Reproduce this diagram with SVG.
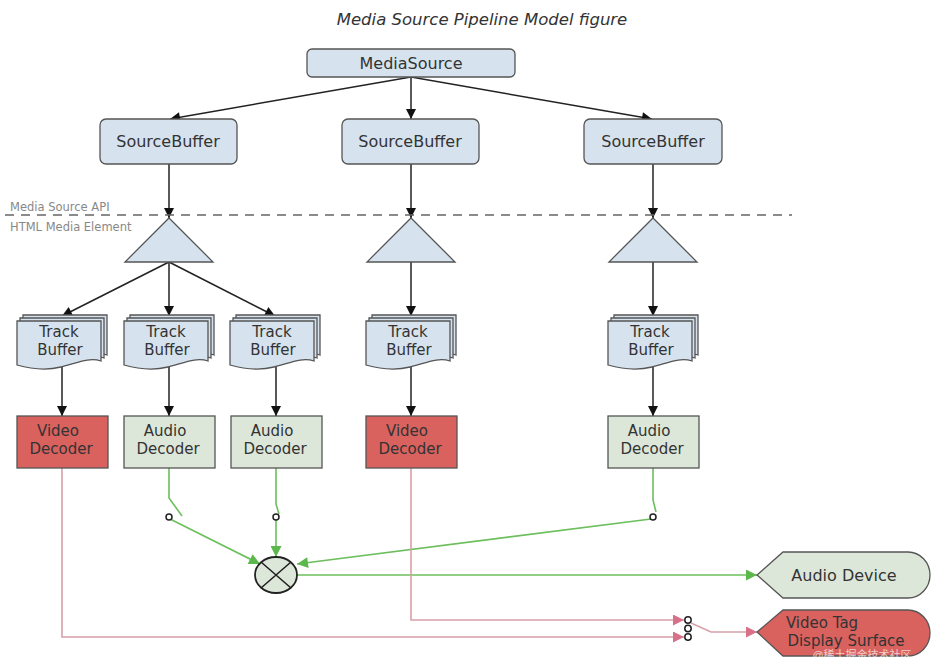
<svg xmlns="http://www.w3.org/2000/svg" width="944" height="662" viewBox="0 0 944 662">
<style>
text{font-family:"DejaVu Sans","Liberation Sans",Arial,sans-serif;fill:#333;text-anchor:middle}
.blue{fill:#d6e3ef;stroke:#555;stroke-width:1.3}
.red{fill:#d9625f;stroke:#555;stroke-width:1.3}
.grn{fill:#dde7d9;stroke:#555;stroke-width:1.3}
.k{stroke:#222;stroke-width:1.5;fill:none}
.g{stroke:#6cbf5c;stroke-width:1.6;fill:none}
.p{stroke:#d8a0aa;stroke-width:1.6;fill:none}
.sw{fill:#fff;stroke:#222;stroke-width:1.5}
.t15{font-size:15px}
.t16{font-size:16px}
.lab{font-size:11.5px;fill:#888;text-anchor:start}
</style>
<defs>
<marker id="ak" viewBox="0 0 10 10" refX="10" refY="5" markerWidth="11" markerHeight="10" markerUnits="userSpaceOnUse" orient="auto"><path d="M0,0L10,5L0,10Z" fill="#111"/></marker>
<marker id="ag" viewBox="0 0 10 10" refX="10" refY="5" markerWidth="13" markerHeight="11" markerUnits="userSpaceOnUse" orient="auto"><path d="M0,0L10,5L0,10Z" fill="#5cb84c"/></marker>
<marker id="ap" viewBox="0 0 10 10" refX="10" refY="5" markerWidth="13" markerHeight="11" markerUnits="userSpaceOnUse" orient="auto"><path d="M0,0L10,5L0,10Z" fill="#d87088"/></marker>
<g id="tb">
<path class="blue" d="M6,0H90V40C78,36 66,42 50,46C34,50 20,48 6,44Z"/>
<path class="blue" d="M3,3H87V43C75,39 63,45 47,49C31,53 17,51 3,47Z"/>
<path class="blue" d="M0,6H84V46C72,42 60,48 44,52C28,56 14,54 0,50Z"/>
</g>
</defs>
<rect width="944" height="662" fill="#fff"/>
<text x="482" y="25" style="font-size:16.5px;font-style:italic" fill="#222">Media Source Pipeline Model figure</text>

<g id="connectors">
<line class="k" x1="411" y1="77" x2="170" y2="119" marker-end="url(#ak)"/>
<line class="k" x1="411" y1="77" x2="411" y2="119" marker-end="url(#ak)"/>
<line class="k" x1="411" y1="77" x2="652" y2="119" marker-end="url(#ak)"/>
<line class="k" x1="169" y1="164" x2="169" y2="218" marker-end="url(#ak)"/>
<line class="k" x1="411" y1="164" x2="411" y2="218" marker-end="url(#ak)"/>
<line class="k" x1="653" y1="164" x2="653" y2="218" marker-end="url(#ak)"/>
<line class="k" x1="169" y1="262" x2="62" y2="316" marker-end="url(#ak)"/>
<line class="k" x1="169" y1="262" x2="169" y2="316" marker-end="url(#ak)"/>
<line class="k" x1="169" y1="262" x2="275" y2="316" marker-end="url(#ak)"/>
<line class="k" x1="411" y1="262" x2="411" y2="316" marker-end="url(#ak)"/>
<line class="k" x1="653" y1="262" x2="653" y2="316" marker-end="url(#ak)"/>
<line class="k" x1="62" y1="367" x2="62" y2="416" marker-end="url(#ak)"/>
<line class="k" x1="169" y1="367" x2="169" y2="416" marker-end="url(#ak)"/>
<line class="k" x1="276" y1="367" x2="276" y2="416" marker-end="url(#ak)"/>
<line class="k" x1="411" y1="367" x2="411" y2="416" marker-end="url(#ak)"/>
<line class="k" x1="653" y1="367" x2="653" y2="416" marker-end="url(#ak)"/>
<polyline class="g" points="169,468 169,498 182,516"/>
<polyline class="g" points="276,468 276,504 279,514"/>
<polyline class="g" points="653,468 653,500 656,512"/>
<line class="g" x1="170" y1="519" x2="260" y2="564" marker-end="url(#ag)"/>
<line class="g" x1="276" y1="520" x2="276" y2="557" marker-end="url(#ag)"/>
<line class="g" x1="651" y1="519" x2="297" y2="564" marker-end="url(#ag)"/>
<line class="g" x1="297" y1="575" x2="757" y2="575" marker-end="url(#ag)"/>
<polyline class="p" points="62,468 62,637 684,637" marker-end="url(#ap)"/>
<polyline class="p" points="411,468 411,620 684,620" marker-end="url(#ap)"/>
<polyline class="p" points="691,623 711,632 757,632" marker-end="url(#ap)"/>
<circle class="sw" cx="169" cy="517" r="3"/>
<circle class="sw" cx="276" cy="517" r="3"/>
<circle class="sw" cx="653" cy="517" r="3"/>
<circle class="sw" cx="688" cy="620" r="3.2"/>
<circle class="sw" cx="688" cy="628.5" r="3.2"/>
<circle class="sw" cx="688" cy="637" r="3.2"/>
</g>

<line x1="5" y1="215" x2="792" y2="215" stroke="#666" stroke-width="1.6" stroke-dasharray="9,7"/>
<text class="lab" x="10" y="211">Media Source API</text>
<text class="lab" x="10" y="231">HTML Media Element</text>

<g id="mediasource"><rect class="blue" x="307" y="49" width="208" height="28" rx="5"/><text class="t16" x="411" y="69">MediaSource</text></g>

<g id="sb1"><rect class="blue" x="100" y="119" width="137" height="45" rx="6"/><text class="t16" x="168" y="147">SourceBuffer</text></g>
<g id="sb2"><rect class="blue" x="342" y="119" width="137" height="45" rx="6"/><text class="t16" x="410" y="147">SourceBuffer</text></g>
<g id="sb3"><rect class="blue" x="584" y="119" width="138" height="45" rx="6"/><text class="t16" x="653" y="147">SourceBuffer</text></g>

<g id="tri1"><path class="blue" d="M169,218L213,262H125Z"/></g>
<g id="tri2"><path class="blue" d="M411,218L455,262H367Z"/></g>
<g id="tri3"><path class="blue" d="M653,218L697,262H609Z"/></g>

<g id="tb1"><use href="#tb" x="17" y="315"/><text class="t15" x="59" y="337">Track</text><text class="t15" x="60" y="355">Buffer</text></g>
<g id="tb2"><use href="#tb" x="124" y="315"/><text class="t15" x="166" y="337">Track</text><text class="t15" x="167" y="355">Buffer</text></g>
<g id="tb3"><use href="#tb" x="230" y="315"/><text class="t15" x="272" y="337">Track</text><text class="t15" x="273" y="355">Buffer</text></g>
<g id="tb4"><use href="#tb" x="366" y="315"/><text class="t15" x="408" y="337">Track</text><text class="t15" x="409" y="355">Buffer</text></g>
<g id="tb5"><use href="#tb" x="608" y="315"/><text class="t15" x="650" y="337">Track</text><text class="t15" x="651" y="355">Buffer</text></g>

<g id="vd1"><rect class="red" x="17" y="416" width="91" height="52"/><text class="t15" x="58" y="436">Video</text><text class="t15" x="61" y="454">Decoder</text></g>
<g id="ad1"><rect class="grn" x="124" y="416" width="91" height="52"/><text class="t15" x="165" y="436">Audio</text><text class="t15" x="168" y="454">Decoder</text></g>
<g id="ad2"><rect class="grn" x="231" y="416" width="91" height="52"/><text class="t15" x="272" y="436">Audio</text><text class="t15" x="275" y="454">Decoder</text></g>
<g id="vd2"><rect class="red" x="366" y="416" width="91" height="52"/><text class="t15" x="407" y="436">Video</text><text class="t15" x="410" y="454">Decoder</text></g>
<g id="ad3"><rect class="grn" x="608" y="416" width="91" height="52"/><text class="t15" x="649" y="436">Audio</text><text class="t15" x="652" y="454">Decoder</text></g>

<g id="mixer"><ellipse class="grn" cx="276" cy="575" rx="21" ry="18" style="stroke:#222;stroke-width:1.8"/><path d="M261,562L291,588M291,562L261,588" stroke="#222" stroke-width="1.6"/></g>

<g id="audiodevice"><path class="grn" d="M757,575L783,552H908A22,23 0 0 1 908,598H783Z"/><text class="t16" x="844" y="581">Audio Device</text></g>
<g id="videotag"><path class="red" d="M757,632L783,610H908A22,23 0 0 1 908,656H783Z"/><text class="t15" x="822" y="628">Video Tag</text><text class="t15" x="846" y="646">Display Surface</text></g>
<text x="862" y="659" style="font-size:11px;font-family:'Liberation Sans','Noto Sans CJK SC',sans-serif;fill:#fff;fill-opacity:0.7">@稀土掘金技术社区</text>
</svg>
